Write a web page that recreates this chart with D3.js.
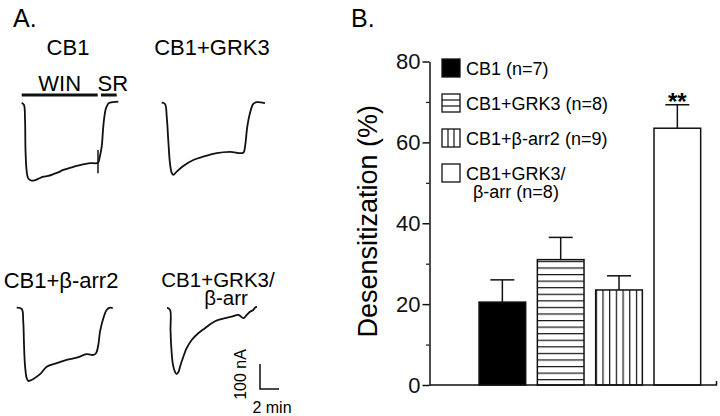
<!DOCTYPE html>
<html>
<head>
<meta charset="utf-8">
<script src="https://cdn.jsdelivr.net/npm/d3@7"></script>
<style>
  body { margin: 0; background: #fff; }
  svg { display: block; font-family: "Liberation Sans", Arial, Helvetica, sans-serif; }
</style>
</head>
<body>
<svg id="fig" width="720" height="416"></svg>
<script>

// ---- panel B data ----
var groups = ["CB1", "CB1+GRK3", "CB1+β-arr2", "CB1+GRK3/β-arr"];
var legendLabels = [["CB1 (n=7)"], ["CB1+GRK3 (n=8)"], ["CB1+β-arr2 (n=9)"], ["CB1+GRK3/", "β-arr (n=8)"]];
var meanDesens = [20.5, 31, 23.5, 63.5];
var semDesens = [5.5, 5.5, 3.5, 5.8];
var signif = ["", "", "", "**"];
var yTicks = [0, 20, 40, 60, 80];
var yMinorTicks = [10, 30, 50, 70];

// ---- panel A traces: [time (min), current (nA)] ----
var traceTitles = [["CB1"], ["CB1+GRK3"], ["CB1+β-arr2"], ["CB1+GRK3/", "β-arr"]];
var traceCB1 = [[0, 0], [0.24, -9], [0.35, -69], [0.40, -189], [0.51, -269], [0.66, -301], [0.87, -309],
  [1.22, -312], [1.72, -305], [2.27, -296], [2.77, -293], [3.33, -286], [3.82, -279], [4.38, -269],
  [5.08, -261], [5.79, -253], [6.45, -247], [7.19, -242], [8.03, -240], [8.19, -221], [8.42, -176],
  [8.56, -109], [8.66, -69], [8.82, -29], [8.94, -16], [9.13, -3], [9.29, 0], [10.17, 4]];
var traceGRK3 = [[0, 0], [0.35, -5], [0.53, -56], [0.69, -149], [0.87, -242], [1.05, -280], [1.22, -289],
  [1.58, -276], [2.27, -253], [3.33, -229], [4.38, -216], [5.79, -202], [7.19, -197], [8.59, -200],
  [8.77, -176], [9.01, -96], [9.29, -42], [9.64, -5], [10.0, 2], [10.87, -2]];
var traceArr2 = [[0, 0], [0.53, -5], [0.69, -56], [0.77, -149], [0.87, -229], [1.05, -282], [1.22, -293],
  [1.75, -285], [2.45, -266], [3.16, -236], [4.21, -222], [5.26, -209], [6.32, -200], [7.37, -186],
  [8.06, -189], [8.35, -182], [8.59, -149], [8.77, -96], [9.12, -42], [9.47, -9], [9.82, 0], [10.11, -2]];
var traceGRK3Arr = [[0, 0], [0.32, -9], [0.37, -89], [0.47, -169], [0.63, -229], [0.84, -257], [1.02, -266],
  [1.21, -257], [1.37, -236], [1.72, -196], [2.07, -162], [2.6, -129], [3.29, -102], [4.0, -82],
  [4.71, -62], [5.4, -49], [6.11, -42], [6.81, -36], [7.51, -29], [8.04, -42], [8.39, -29],
  [8.74, -16], [9.08, -9], [9.26, 0], [9.47, 4]];
var cb1Spike = [[8.03, -189], [8.03, -282]];
var winPeriod = [0, 8];
var srPeriod = [8.35, 10];
var scaleBarMin = 2;
var scaleBarNA = 100;

var svg = d3.select("#fig");

// ================= panel A =================
var pxPerMin = 9.5, pxPerNA = 0.25;

function traceScales(ox, oy) {
  return {
    x: d3.scaleLinear().domain([0, 1]).range([ox, ox + pxPerMin]),
    y: d3.scaleLinear().domain([0, -100]).range([oy, oy + 100 * pxPerNA])
  };
}

// title lines: [centre x, baseline y, font size] per line
var panelA = [
  { data: traceCB1, ox: 21.7, oy: 102.7, lines: [[68, 55, 22]] },
  { data: traceGRK3, ox: 161.7, oy: 102.7, lines: [[212, 55, 22]] },
  { data: traceArr2, ox: 16.7, oy: 307.7, lines: [[61, 288, 22]] },
  { data: traceGRK3Arr, ox: 167, oy: 307.7, lines: [[218, 287, 20.5], [226, 305, 20.5]] }
];

svg.append("text").attr("x", 13).attr("y", 27).attr("font-size", 25).text("A.");

panelA.forEach(function(p, i) {
  var s = traceScales(p.ox, p.oy);
  var line = d3.line().x(function(d) { return s.x(d[0]); }).y(function(d) { return s.y(d[1]); })
    .curve(d3.curveCatmullRom.alpha(0.5));
  svg.append("path").attr("d", line(p.data))
    .attr("fill", "none").attr("stroke", "#111").attr("stroke-width", 1.8).attr("stroke-linejoin", "round");

  traceTitles[i].forEach(function(l, j) {
    var L = p.lines[j];
    svg.append("text").attr("x", L[0]).attr("y", L[1]).attr("text-anchor", "middle")
      .attr("font-size", L[2]).text(l);
  });
  p.s = s;
});

// WIN / SR bars and the artefact spike on the CB1 trace
var s0 = panelA[0].s;
svg.append("path").attr("d", d3.line().x(function(d) { return s0.x(d[0]); }).y(function(d) { return s0.y(d[1]); })(cb1Spike))
  .attr("stroke", "#111").attr("stroke-width", 1.5);
[[winPeriod, "WIN"], [srPeriod, "SR"]].forEach(function(b) {
  var yb = s0.y(0) - 7.7;
  svg.append("line").attr("x1", s0.x(b[0][0])).attr("x2", s0.x(b[0][1])).attr("y1", yb).attr("y2", yb)
    .attr("stroke", "#111").attr("stroke-width", 3);
  svg.append("text").attr("x", (s0.x(b[0][0]) + s0.x(b[0][1])) / 2 + (b[1] == "SR" ? 4 : 0)).attr("y", 90.7)
    .attr("text-anchor", "middle").attr("font-size", 22).text(b[1]);
});

// scale bar
var sb = traceScales(260, 389);
var sbPath = d3.path();
sbPath.moveTo(sb.x(0), sb.y(scaleBarNA));
sbPath.lineTo(sb.x(0), sb.y(0));
sbPath.lineTo(sb.x(scaleBarMin), sb.y(0));
svg.append("path").attr("d", sbPath.toString()).attr("fill", "none").attr("stroke", "#111").attr("stroke-width", 1.5);
svg.append("text").attr("transform", "translate(246," + ((sb.y(0) + sb.y(scaleBarNA)) / 2 - 2) + ") rotate(-90)")
  .attr("text-anchor", "middle").attr("font-size", 16).text(scaleBarNA + " nA");
svg.append("text").attr("x", 272).attr("y", 413).attr("text-anchor", "middle").attr("font-size", 16)
  .text(scaleBarMin + " min");

// ================= panel B =================
var y = d3.scaleLinear().domain([0, 80]).range([385, 61.5]);
var x = d3.scaleBand().domain(groups).range([473.2, 706.5]).paddingInner(0.2).paddingOuter(0.1);

svg.append("text").attr("x", 351).attr("y", 27).attr("font-size", 25).text("B.");

var defs = svg.append("defs");
var ph = defs.append("pattern").attr("id", "hatchH").attr("patternUnits", "userSpaceOnUse")
  .attr("width", 10).attr("height", 6.57).attr("y", y(meanDesens[1]) + 1.2);
ph.append("rect").attr("width", 10).attr("height", 6.57).attr("fill", "#fff");
ph.append("line").attr("x1", 0).attr("x2", 10).attr("y1", 0.6).attr("y2", 0.6).attr("stroke", "#111").attr("stroke-width", 1.2);
var pv = defs.append("pattern").attr("id", "hatchV").attr("patternUnits", "userSpaceOnUse")
  .attr("width", 6.7).attr("height", 10).attr("x", x(groups[2]));
pv.append("rect").attr("width", 6.7).attr("height", 10).attr("fill", "#fff");
pv.append("line").attr("x1", 0.6).attr("x2", 0.6).attr("y1", 0).attr("y2", 10).attr("stroke", "#111").attr("stroke-width", 1.2);

var fills = ["#000", "url(#hatchH)", "url(#hatchV)", "#fff"];

// y axis
var yAxis = svg.append("g").attr("transform", "translate(429.5,0)")
  .call(d3.axisLeft(y).tickValues(yTicks).tickSize(7).tickSizeOuter(0).tickPadding(2).tickFormat(d3.format("d")));
yAxis.selectAll("text").attr("font-size", 22).attr("font-family", null).attr("fill", "#111");
yAxis.selectAll("line").attr("stroke", "#111").attr("stroke-width", 1.5);
yAxis.select(".domain").attr("stroke", "#111").attr("stroke-width", 1.5);
var yMinor = svg.append("g").attr("transform", "translate(429.5,0)")
  .call(d3.axisLeft(y).tickValues(yMinorTicks).tickSize(3.5).tickFormat(""));
yMinor.select(".domain").remove();
yMinor.selectAll("line").attr("stroke", "#111").attr("stroke-width", 1.2);

svg.append("text").attr("transform", "translate(377," + y(40.5) + ") rotate(-90)")
  .attr("text-anchor", "middle").attr("font-size", 27).text("Desensitization (%)");

// bars
var bars = svg.append("g");
bars.selectAll("rect").data(meanDesens).join("rect")
  .attr("x", function(d, i) { return x(groups[i]); })
  .attr("y", function(d) { return y(d); })
  .attr("width", x.bandwidth())
  .attr("height", function(d) { return y(0) - y(d); })
  .attr("fill", function(d, i) { return fills[i]; })
  .attr("stroke", "#111").attr("stroke-width", 1.5);

// error bars (upper only)
var eb = svg.append("g").attr("stroke", "#111").attr("stroke-width", 1.5);
meanDesens.forEach(function(m, i) {
  var cx = x(groups[i]) + x.bandwidth() / 2;
  eb.append("line").attr("x1", cx).attr("x2", cx).attr("y1", y(m)).attr("y2", y(m + semDesens[i]));
  eb.append("line").attr("x1", cx - 12).attr("x2", cx + 12).attr("y1", y(m + semDesens[i])).attr("y2", y(m + semDesens[i]));
  if (signif[i]) {
    svg.append("text").attr("x", cx).attr("y", y(m + semDesens[i]) + 5.5).attr("text-anchor", "middle")
      .attr("font-size", 24).attr("font-weight", "bold").text(signif[i]);
  }
});

// x axis line with small end tick
var xa = d3.path();
xa.moveTo(429.5, y(0));
xa.lineTo(716.5, y(0));
xa.lineTo(716.5, y(0) - 4);
svg.append("path").attr("d", xa.toString()).attr("fill", "none").attr("stroke", "#111").attr("stroke-width", 1.5);

// legend
var leg = svg.append("g").attr("transform", "translate(442,0)");
legendLabels.forEach(function(lbl, i) {
  var top = 59 + i * 35;
  leg.append("rect").attr("x", 0).attr("y", top).attr("width", 18).attr("height", 18)
    .attr("fill", i == 0 ? "#000" : "#fff").attr("stroke", "#111").attr("stroke-width", 1.3);
  if (i == 1) {
    [6, 12].forEach(function(o) {
      leg.append("line").attr("x1", 0).attr("x2", 18).attr("y1", top + o).attr("y2", top + o).attr("stroke", "#111").attr("stroke-width", 1.2);
    });
  }
  if (i == 2) {
    [6, 12].forEach(function(o) {
      leg.append("line").attr("y1", top).attr("y2", top + 18).attr("x1", o).attr("x2", o).attr("stroke", "#111").attr("stroke-width", 1.2);
    });
  }
  lbl.forEach(function(l, j) {
    leg.append("text").attr("x", j ? 31 : 24).attr("y", top + 15.5 + j * 18.5).attr("font-size", 18).text(l);
  });
});

</script>
</body>
</html>
